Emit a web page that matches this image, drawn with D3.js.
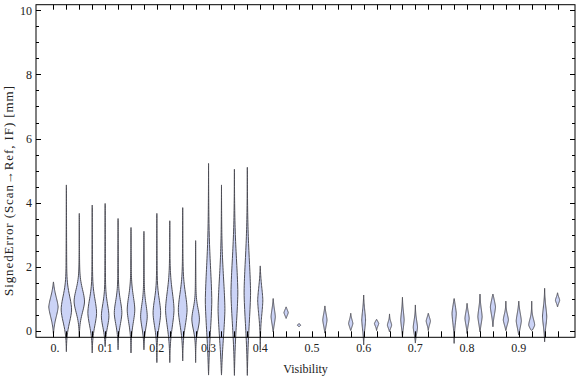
<!DOCTYPE html>
<html>
<head>
<meta charset="utf-8">
<script src="https://cdn.jsdelivr.net/npm/d3@7"></script>
<style>
  body { margin: 0; background: #fff; }
  text { font-family: "Liberation Serif", "Times New Roman", serif; fill: #222; }
</style>
</head>
<body>
<div id="chart"></div>
<script>
// visibility bins (0.025 wide), one violin per bin; null = empty bin
const categories = [0, 0.025, 0.05, 0.075, 0.1, 0.125, 0.15, 0.175, 0.2, 0.225,
  0.25, 0.275, 0.3, 0.325, 0.35, 0.375, 0.4, 0.425, 0.45, 0.475,
  0.5, 0.525, 0.55, 0.575, 0.6, 0.625, 0.65, 0.675, 0.7, 0.725,
  0.75, 0.775, 0.8, 0.825, 0.85, 0.875, 0.9, 0.925, 0.95, 0.975];

// signed error: min, max, mode, spread of the bulge, relative peak density
const errMin = [-0.10, -0.66, -0.20, -0.70, -0.50, -0.60, -0.70, -0.60, -1.00, -1.00,
  -0.95, -1.00, -1.39, -1.39, -1.40, -1.40, -0.61, -0.04, 0.38, 0.12,
  null, -0.08, null, 0.00, -0.45, 0.00, -0.04, -0.19, -0.39, 0.00,
  null, -0.40, -0.09, -0.04, 0.12, 0.00, -0.14, 0.00, -0.35, 0.74];
const errMax = [1.52, 4.55, 3.66, 3.92, 3.97, 3.50, 3.22, 3.10, 3.66, 3.43,
  3.84, 2.81, 5.22, 4.55, 5.04, 5.10, 2.02, 1.00, 0.74, 0.22,
  null, 0.77, null, 0.54, 1.11, 0.35, 0.52, 1.04, 0.80, 0.54,
  null, 1.00, 0.85, 1.14, 1.14, 0.92, 0.92, 0.92, 1.32, 1.18];
const errMode = [0.74, 0.64, 0.90, 0.54, 0.43, 0.54, 0.64, 0.43, 0.54, 0.64,
  0.64, 0.35, 0.90, 0.64, 1.17, 1.17, 0.95, 0.43, 0.56, 0.17,
  null, 0.33, null, 0.22, 0.33, 0.22, 0.17, 0.33, 0.10, 0.30,
  null, 0.54, 0.38, 0.43, 0.74, 0.33, 0.30, 0.17, 0.43, 0.95];
const errSpread = [0.40, 0.45, 0.40, 0.45, 0.40, 0.40, 0.45, 0.40, 0.45, 0.60,
  0.55, 0.35, 1.20, 1.10, 1.20, 1.20, 0.50, 0.30, 0.12, 0.04,
  null, 0.25, null, 0.15, 0.35, 0.10, 0.12, 0.30, 0.25, 0.15,
  null, 0.35, 0.25, 0.30, 0.30, 0.20, 0.30, 0.20, 0.35, 0.12];
const peakDensity = [0.88, 1.00, 1.00, 0.82, 0.70, 0.70, 0.70, 0.60, 0.70, 0.79,
  0.82, 0.70, 0.58, 0.62, 0.62, 0.58, 0.44, 0.35, 0.35, 0.26,
  null, 0.35, null, 0.35, 0.30, 0.35, 0.35, 0.26, 0.35, 0.35,
  null, 0.35, 0.35, 0.35, 0.44, 0.44, 0.44, 0.53, 0.35, 0.35];

const xTickLabels = ["0.", "0.1", "0.2", "0.3", "0.4", "0.5", "0.6", "0.7", "0.8", "0.9"];
const yTicks = [0, 2, 4, 6, 8, 10];

const W = 576, H = 377;
const frame = { left: 36, right: 575, top: 4.7, bottom: 337.3 };

const svg = d3.select("#chart").append("svg")
  .attr("width", W)
  .attr("height", H);

const x = d3.scaleLinear()
  .domain([-1.35, categories.length - 1 + 1.35])
  .range([frame.left, frame.right]);

const y = d3.scaleLinear()
  .domain([-0.21, 10.18])
  .range([frame.bottom, frame.top]);

// half width of a violin in px
const w = d3.scaleLinear().domain([0, 1]).range([0, 4.8]);

// violins
const area = d3.area()
  .x0(d => d.cx - w(d.dens))
  .x1(d => d.cx + w(d.dens))
  .y(d => y(d.v))
  .curve(d3.curveBasis);

const violins = svg.append("g");
categories.forEach(function(c, i) {
  if (errMin[i] === null) return;
  let lo = errMin[i], hi = errMax[i], m = errMode[i], sd = errSpread[i], pk = peakDensity[i];
  let pts = [];
  let n = 60;
  for (let k = 0; k <= n; k++) {
    let v = lo + (hi - lo) * k / n;
    let lin = v >= m ? (hi - v) / (hi - m) : (v - lo) / (m - lo);
    lin = Math.max(0, Math.min(1, lin));
    let z = (v - m) / sd;
    let dens = pk * Math.exp(-0.5 * z * z) * Math.sqrt(lin) + 0.1 * lin;
    pts.push({ v: v, cx: x(i), dens: dens });
  }
  violins.append("path")
    .attr("d", area(pts))
    .attr("fill", "#cbd3f6")
    .attr("stroke", "#4d4d55")
    .attr("stroke-width", 1)
    .attr("stroke-linejoin", "round");
});

// frame
const ax = svg.append("g").attr("stroke", "#000").attr("fill", "none");
ax.append("rect")
  .attr("x", frame.left).attr("y", frame.top)
  .attr("width", frame.right - frame.left)
  .attr("height", frame.bottom - frame.top)
  .attr("stroke-width", 1);

// x ticks on bottom and top
categories.forEach(function(c, i) {
  let px = Math.round(x(i)) + 0.5;
  ax.append("line").attr("x1", px).attr("x2", px)
    .attr("y1", frame.bottom).attr("y2", frame.bottom - 6);
  ax.append("line").attr("x1", px).attr("x2", px)
    .attr("y1", frame.top).attr("y2", frame.top + 5);
});

// y ticks, major every 2, minor every 0.5, left and right
d3.range(0, 10.01, 0.5).forEach(function(v) {
  let py = Math.round(y(v)) + 0.5;
  let major = v % 2 === 0;
  let len = major ? 5 : 3;
  ax.append("line").attr("x1", frame.left).attr("x2", frame.left + len)
    .attr("y1", py).attr("y2", py);
  ax.append("line").attr("x1", frame.right).attr("x2", frame.right - len)
    .attr("y1", py).attr("y2", py);
});

// tick labels
xTickLabels.forEach(function(t, j) {
  svg.append("text")
    .attr("x", x(j * 4))
    .attr("y", 352)
    .attr("text-anchor", t === "0." ? "start" : "middle")
    .attr("dx", t === "0." ? -3 : 0)
    .attr("font-size", 12)
    .text(t);
});

yTicks.forEach(function(v) {
  svg.append("text")
    .attr("x", 32)
    .attr("y", y(v))
    .attr("dy", "0.35em")
    .attr("text-anchor", "end")
    .attr("font-size", 12)
    .text(v);
});

// axis labels
svg.append("text")
  .attr("x", (frame.left + frame.right) / 2)
  .attr("y", 373)
  .attr("text-anchor", "middle")
  .attr("font-size", 12)
  .text("Visibility");

svg.append("text")
  .attr("transform", "translate(13," + 191 + ") rotate(-90)")
  .attr("text-anchor", "middle")
  .attr("font-size", 13)
  .attr("textLength", 210)
  .attr("lengthAdjust", "spacing")
  .text("SignedError (Scan\u2192Ref, IF) [mm]");
</script>
</body>
</html>
